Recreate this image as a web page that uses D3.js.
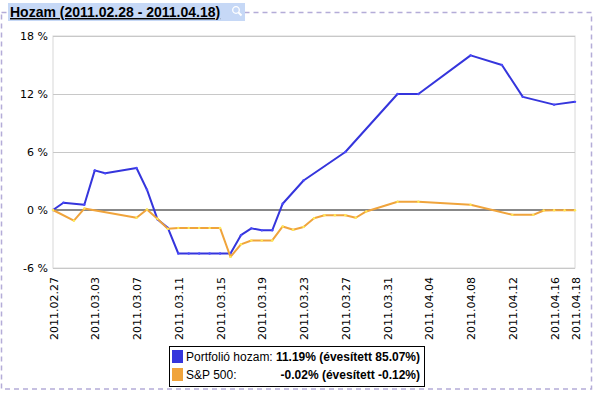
<!DOCTYPE html>
<html>
<head>
<meta charset="utf-8">
<script src="https://cdn.jsdelivr.net/npm/d3@7"></script>
<style>
  body { margin: 0; background: #fff; }
  svg { display: block; }
</style>
</head>
<body>
<svg width="595" height="399"></svg>
<script>
const width = 595;
const height = 399;

const title = "Hozam (2011.02.28 - 2011.04.18)";

// dates and returns (%) per series
const portfolioDates = ["2011-02-27","2011-02-28","2011-03-02","2011-03-03","2011-03-04","2011-03-07","2011-03-08",
    "2011-03-09","2011-03-10","2011-03-11","2011-03-12","2011-03-13","2011-03-14","2011-03-15","2011-03-16",
    "2011-03-17","2011-03-18","2011-03-19","2011-03-20","2011-03-21","2011-03-23","2011-03-27","2011-04-01",
    "2011-04-03","2011-04-08","2011-04-11","2011-04-13","2011-04-16","2011-04-18"];
const portfolioValues = [0, 0.75, 0.55, 4.1, 3.8, 4.35, 2.1, -0.95, -1.85, -4.5, -4.5, -4.5, -4.5, -4.5, -4.5,
    -2.6, -1.9, -2.1, -2.1, 0.65, 3.05, 6.0, 12.0, 12.0, 16.0, 15.0, 11.7, 10.9, 11.19];

const spDates = ["2011-02-27","2011-03-01","2011-03-02","2011-03-07","2011-03-08","2011-03-09","2011-03-10",
    "2011-03-11","2011-03-12","2011-03-13","2011-03-14","2011-03-15","2011-03-16","2011-03-17","2011-03-18",
    "2011-03-19","2011-03-20","2011-03-21","2011-03-22","2011-03-23","2011-03-24","2011-03-25","2011-03-26",
    "2011-03-27","2011-03-28","2011-03-29","2011-04-01","2011-04-03","2011-04-08","2011-04-12","2011-04-14",
    "2011-04-15","2011-04-16","2011-04-17","2011-04-18"];
const spValues = [0, -1.1, 0.15, -0.8, 0.05, -0.9, -1.95, -1.85, -1.85, -1.85, -1.85, -1.85, -4.85, -3.55, -3.15,
    -3.15, -3.15, -1.7, -2.05, -1.75, -0.85, -0.55, -0.55, -0.55, -0.8, -0.15, 0.85, 0.85, 0.55, -0.5, -0.5,
    -0.05, -0.02, -0.02, -0.02];

const yTicks = [-6, 0, 6, 12, 18];
const xTickLabels = ["2011.02.27","2011.03.03","2011.03.07","2011.03.11","2011.03.15","2011.03.19","2011.03.23",
    "2011.03.27","2011.03.31","2011.04.04","2011.04.08","2011.04.12","2011.04.16","2011.04.18"];

const legendNames = ["Portfolió hozam:", "S&P 500:"];
const legendValues = ["11.19% (évesített 85.07%)", "-0.02% (évesített -0.12%)"];
const colors = ["#3535dc", "#f0a43c"];

const parse = d3.timeParse("%Y-%m-%d");
const parseTick = d3.timeParse("%Y.%m.%d");
const series = [
    portfolioDates.map((d, i) => ({date: parse(d), value: portfolioValues[i]})),
    spDates.map((d, i) => ({date: parse(d), value: spValues[i]}))
];

const plot = {left: 53, right: 575, top: 36, bottom: 268};

const svg = d3.select("svg");

const x = d3.scaleTime()
    .domain([parse("2011-02-27"), parse("2011-04-18")])
    .range([plot.left, plot.right]);
const y = d3.scaleLinear()
    .domain([-6, 18])
    .range([plot.bottom, plot.top]);

// outer dashed frame
svg.append("rect")
    .attr("x", 1.5).attr("y", 12.5)
    .attr("width", 590).attr("height", 376.5)
    .attr("fill", "none")
    .attr("stroke", "#b4acd8")
    .attr("stroke-width", 1.5)
    .attr("stroke-dasharray", "5,4");

// title
svg.append("rect")
    .attr("x", 8).attr("y", 3)
    .attr("width", 237).attr("height", 18)
    .attr("fill", "#c6d8f6");
svg.append("text")
    .attr("x", 10).attr("y", 17)
    .style("font", "bold 14px 'Liberation Sans', Arial, sans-serif")
    .style("text-decoration", "underline")
    .attr("fill", "#000")
    .text(title + " ");
const mag = svg.append("g").attr("transform", "translate(236,10)")
    .attr("stroke", "#fff").attr("fill", "none").attr("stroke-width", 1.3);
mag.append("circle").attr("r", 3.3);
mag.append("line").attr("x1", 2.4).attr("y1", 2.4).attr("x2", 5.5).attr("y2", 5.5).attr("stroke-width", 2);

// plot frame and grid
svg.append("rect")
    .attr("x", plot.left).attr("y", plot.top)
    .attr("width", plot.right - plot.left).attr("height", plot.bottom - plot.top)
    .attr("fill", "none")
    .attr("stroke", "#d8d8d8");

const yAxis = svg.append("g")
    .attr("transform", `translate(${plot.left},0)`)
    .call(d3.axisLeft(y).tickValues(yTicks).tickSize(-(plot.right - plot.left)).tickPadding(5)
        .tickFormat(d => d + " %"));
yAxis.select(".domain").remove();
yAxis.selectAll(".tick line").attr("stroke", "#c8c8c8");
yAxis.selectAll(".tick text")
    .style("font", "11px 'DejaVu Sans', Verdana, sans-serif")
    .attr("fill", "#000");

// zero line
svg.append("line")
    .attr("x1", plot.left).attr("x2", plot.right)
    .attr("y1", y(0)).attr("y2", y(0))
    .attr("stroke", "#888")
    .attr("stroke-width", 2);

const xAxis = svg.append("g")
    .attr("transform", `translate(0,${plot.bottom})`)
    .call(d3.axisBottom(x).tickValues(xTickLabels.map(parseTick)).tickSize(0).tickPadding(0)
        .tickFormat(d3.timeFormat("%Y.%m.%d")));
xAxis.select(".domain").remove();
xAxis.selectAll(".tick text")
    .style("font", "11px 'DejaVu Sans', Verdana, sans-serif")
    .attr("fill", "#000")
    .attr("text-anchor", "end")
    .attr("dy", null)
    .attr("y", 0)
    .attr("transform", "translate(4,9) rotate(-90)");

// series
const line = d3.line().x(d => x(d.date)).y(d => y(d.value));
series.forEach((s, i) => {
    svg.append("path")
        .datum(s)
        .attr("d", line)
        .attr("fill", "none")
        .attr("stroke", colors[i])
        .attr("stroke-width", 2)
        .attr("stroke-linejoin", "round");
    svg.append("g").selectAll("circle")
        .data(s)
        .join("circle")
        .attr("cx", d => x(d.date))
        .attr("cy", d => y(d.value))
        .attr("r", 1.2)
        .attr("fill", d3.color(colors[i]).brighter(1));
});

// legend
const legend = svg.append("g");
legend.append("rect")
    .attr("x", 169.5).attr("y", 346.5)
    .attr("width", 255).attr("height", 40)
    .attr("fill", "#fff")
    .attr("stroke", "#000");
legendNames.forEach((name, i) => {
    const yy = 350 + i * 18;
    legend.append("rect")
        .attr("x", 172).attr("y", yy)
        .attr("width", 11).attr("height", 13)
        .attr("fill", colors[i]);
    legend.append("text")
        .attr("x", 186).attr("y", yy + 11)
        .style("font", "12px 'Liberation Sans', Arial, sans-serif")
        .text(name);
    legend.append("text")
        .attr("x", 420).attr("y", yy + 11)
        .attr("text-anchor", "end")
        .style("font", "bold 12px 'Liberation Sans', Arial, sans-serif")
        .text(legendValues[i]);
});
</script>
</body>
</html>
